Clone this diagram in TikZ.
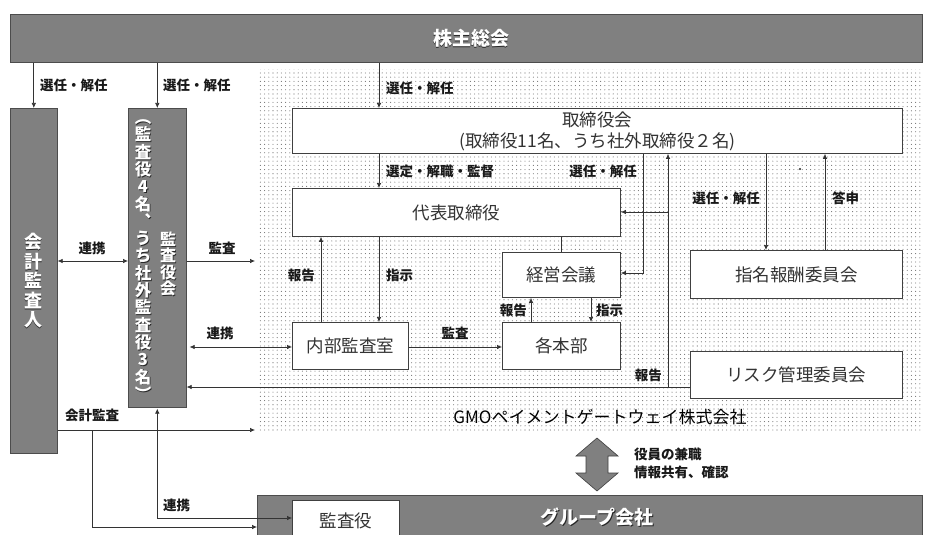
\documentclass[tikz,border=0pt]{standalone}
\usepackage{fontspec}
\setmainfont{Noto Sans CJK JP}
\usetikzlibrary{arrows.meta,patterns.meta}
\newcommand\embnode[3]{%
  \node[text=black!85,inner sep=0pt,#3] at ([shift={(0.9,0.9)}]#1) {#2};%
  \node[text=white,inner sep=0pt,#3] at (#1) {#2};}
\begin{document}
\begin{tikzpicture}[x=1pt,y=-1pt,
  box/.style={draw=black!75, line width=0.8pt, fill=white, inner sep=0pt, anchor=north west,
    font=\fontsize{17.5}{21}\selectfont, text=black!80, align=center},
  band/.style={draw=black!70, fill=black!50, line width=0.6pt, inner sep=0pt, anchor=north west},
  conn/.style={draw=black!80, line width=0.7pt},
  arr/.style={conn,-{Latex[length=5pt,width=4.5pt]}},
  darr/.style={conn,{Latex[length=5pt,width=4.5pt]}-{Latex[length=5pt,width=4.5pt]}},
  lbl/.style={font=\fontsize{13.5}{15}\selectfont\bfseries, text=black!90, inner sep=1pt}
]
\useasboundingbox (0,0) rectangle (927,535);
\fill[white] (0,0) rectangle (927,535);
% stippled company area
\fill[pattern={Dots[distance=4.2pt, radius=0.55pt]}, pattern color=black!55] (258,70) rectangle (922,432);
% bands
\node[band, minimum width=912pt, minimum height=48pt] (sh) at (10,14) {};
\node[band, minimum width=47pt, minimum height=345pt] (kaikei) at (10,108) {};
\node[band, minimum width=58pt, minimum height=299pt] (kansa) at (128,108) {};
\node[band, minimum width=665pt, minimum height=50pt] (group) at (257,495) {};
% embossed texts
\embnode{471,38}{株主総会}{font=\fontsize{19}{20}\selectfont\bfseries}
\embnode{33,281}{会\\計\\監\\査\\人}{font=\fontsize{18}{19.5}\selectfont\bfseries, align=center}
\embnode{143,260}{︵\\監\\査\\役\\4\\名\\︑\\う\\ち\\社\\外\\監\\査\\役\\3\\名\\︶}{font=\fontsize{16.5}{17.3}\selectfont\bfseries, align=center}
\embnode{168,264}{監\\査\\役\\会}{font=\fontsize{16}{16.5}\selectfont\bfseries, align=center}
\embnode{597,517}{グループ会社}{font=\fontsize{19}{20}\selectfont\bfseries}
% boxes
\node[box, minimum width=610pt, minimum height=45pt] (board) at (292,108) {取締役会\\(取締役11名、うち社外取締役２名)};
\node[box, minimum width=328pt, minimum height=48pt] (daihyo) at (292,188) {代表取締役};
\node[box, minimum width=118pt, minimum height=45pt] (keiei) at (502,252) {経営会議};
\node[box, minimum width=118pt, minimum height=47pt] (honbu) at (502,322) {各本部};
\node[box, minimum width=116pt, minimum height=47pt] (naibu) at (292,322) {内部監査室};
\node[box, minimum width=212pt, minimum height=48pt] (shimei) at (690,250) {指名報酬委員会};
\node[box, minimum width=212pt, minimum height=47pt] (risk) at (690,351) {リスク管理委員会};
\node[box, minimum width=107pt, minimum height=40pt] (gkansa) at (292,500) {監査役};
% helper coordinates
\coordinate (ka) at (379,0);
\coordinate (kb) at (643,0);
\coordinate (kc) at (668,0);
\coordinate (kd) at (766,0);
\coordinate (ke) at (825,0);
\coordinate (kf) at (561,0);
\coordinate (kg) at (531,0);
\coordinate (kh) at (591,0);
\coordinate (ki) at (321,0);
\coordinate (y273) at (0,273);
\coordinate (y387) at (0,387);
\coordinate (y212) at (0,212);
\coordinate (y347) at (0,347);
\coordinate (y261) at (0,261);
\coordinate (y518) at (0,518);
\coordinate (m1) at (255,261);
\coordinate (m2) at (255,430);
\coordinate (j1) at (92,430);
\coordinate (j2) at (92,527);
% connectors from shareholders meeting
\draw[arr] (sh.south -| kaikei.north) -- (kaikei.north);
\node[lbl, anchor=west] at (39,85) {選任・解任};
\draw[arr] (sh.south -| kansa.north) -- (kansa.north);
\node[lbl, anchor=west] at (162,85) {選任・解任};
\draw[arr] (sh.south -| ka) -- (board.north -| ka);
\node[lbl, anchor=west] at (385,88) {選任・解任};
% board downwards
\draw[arr] (board.south -| ka) -- (daihyo.north -| ka);
\node[lbl, anchor=west] at (385,171) {選定・解職・監督};
\draw[arr] (board.south -| kb) -- (kb |- y273) -- (keiei.east |- y273);
\node[lbl, anchor=east] at (638,171) {選任・解任};
\draw[arr] (risk.west |- y387) -- (kansa.east |- y387);
\draw[arr] (kc |- y387) -- (board.south -| kc);
\draw[arr] (kc |- y212) -- (daihyo.east |- y212);
\node[lbl, anchor=east] at (663,375) {報告};
\draw[arr] (board.south -| kd) -- (shimei.north -| kd);
\node[lbl, anchor=east] at (761,198) {選任・解任};
\draw[arr] (shimei.north -| ke) -- (board.south -| ke);
\node[lbl, anchor=west] at (831,198) {答申};
\fill[black!85] (800,169) circle (1.1pt);
% representative director
\draw[conn] (daihyo.south -| kf) -- (keiei.north -| kf);
\draw[arr] (honbu.north -| kg) -- (keiei.south -| kg);
\node[lbl, anchor=east] at (528,310) {報告};
\draw[arr] (keiei.south -| kh) -- (honbu.north -| kh);
\node[lbl, anchor=west] at (595,310) {指示};
\draw[arr] (daihyo.south -| ka) -- (naibu.north -| ka);
\node[lbl, anchor=west] at (385,275) {指示};
\draw[arr] (naibu.north -| ki) -- (daihyo.south -| ki);
\node[lbl, anchor=east] at (316,275) {報告};
\draw[arr] (naibu.east |- y347) -- (honbu.west |- y347);
\node[lbl] at (455,333) {監査};
% auditors
\draw[darr, shorten <=3pt] (kansa.east |- y347) -- (naibu.west |- y347);
\node[lbl] at (220,333) {連携};
\draw[arr] (kansa.east |- m1) -- (m1);
\node[lbl] at (222,248) {監査};
\draw[darr] (kaikei.east |- y261) -- (kansa.west |- y261);
\node[lbl] at (92,248) {連携};
\draw[arr] (kaikei.east |- m2) -- (m2);
\node[lbl] at (92,415) {会計監査};
\draw[arr] (j1) -- (j2) -- (group.west |- j2);
\draw[darr, shorten <=1pt] (kansa.south) -- (kansa.south |- y518) -- (gkansa.west |- y518);
\node[lbl, anchor=west] at (162,505) {連携};
% company label
\node[font=\fontsize{17}{20}\selectfont, text=black, inner sep=0pt] (gmo) at (600,417) {GMOペイメントゲートウェイ株式会社};
% double arrow
\filldraw[fill=black!50, draw=black!75, line width=0.6pt] (597,438) -- (618,456) -- (608,456) -- (608,473) -- (618,473) -- (597,491) -- (576,473) -- (586,473) -- (586,456) -- (576,456) -- cycle;
\node[lbl, anchor=west] at (633,454) {役員の兼職};
\node[lbl, anchor=west] at (633,472) {情報共有、確認};
\end{tikzpicture}
\end{document}
